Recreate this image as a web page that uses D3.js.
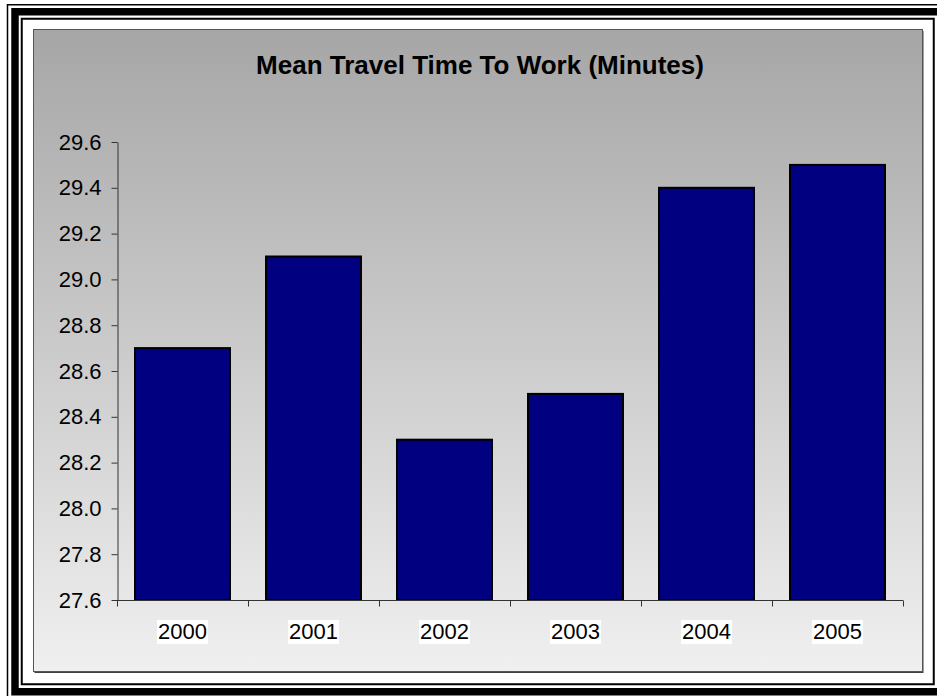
<!DOCTYPE html>
<html>
<head>
<meta charset="utf-8">
<script src="https://cdn.jsdelivr.net/npm/d3@7"></script>
<style>
  html, body { margin: 0; padding: 0; background: #ffffff; }
  svg { display: block; }
  text { font-family: Arial, "Liberation Sans", sans-serif; fill: #000; }
</style>
</head>
<body>
<svg id="chart" width="937" height="696"></svg>
<script>
// Mean travel time to work, by survey year
const years = ["2000", "2001", "2002", "2003", "2004", "2005"];
const minutes = [28.7, 29.1, 28.3, 28.5, 29.4, 29.5];
const yTicks = [27.6, 27.8, 28.0, 28.2, 28.4, 28.6, 28.8, 29.0, 29.2, 29.4, 29.6];
const chartTitle = "Mean Travel Time To Work (Minutes)";

const W = 937, H = 696;
const svg = d3.select("#chart");

// Page-style border: thin outer rule, thick rule, thin inner rule
const frame = svg.append("g");
frame.append("rect").attr("x", 7.5).attr("y", 4.75).attr("width", W + 20).attr("height", H + 20)
  .attr("fill", "none").attr("stroke", "#000").attr("stroke-width", 1.5);
frame.append("rect").attr("x", 15).attr("y", 11.75).attr("width", W + 20).attr("height", 680)
  .attr("fill", "none").attr("stroke", "#000").attr("stroke-width", 7.5);
frame.append("rect").attr("x", 21.75).attr("y", 18.75).attr("width", 912).attr("height", 665.5)
  .attr("fill", "none").attr("stroke", "#000").attr("stroke-width", 2);

// Chart area with vertical grey gradient
const defs = svg.append("defs");
const grad = defs.append("linearGradient").attr("id", "bg").attr("x1", 0).attr("y1", 0).attr("x2", 0).attr("y2", 1);
grad.append("stop").attr("offset", "0%").attr("stop-color", "#a6a6a6");
grad.append("stop").attr("offset", "100%").attr("stop-color", "#f0f0f0");

const panel = { x: 33, y: 29.5, w: 889, h: 642 };
// shadow on right and bottom edges
svg.append("rect").attr("x", panel.x + 1.5).attr("y", panel.y + 1.5).attr("width", panel.w).attr("height", panel.h)
  .attr("fill", "#404040");
svg.append("rect").attr("x", panel.x + 0.5).attr("y", panel.y).attr("width", panel.w).attr("height", panel.h)
  .attr("fill", "url(#bg)").attr("stroke", "#555").attr("stroke-width", 1);

// Title
svg.append("text")
  .attr("x", 480).attr("y", 74)
  .attr("text-anchor", "middle")
  .attr("font-size", 26).attr("font-weight", "bold")
  .text(chartTitle);

// Scales
const x = d3.scaleBand().domain(years).range([117, 903]).padding(0);
const y = d3.scaleLinear().domain([27.6, 29.6]).range([600, 142]);
const barFrac = 0.725;

// Bars
svg.append("g").selectAll("rect").data(years).join("rect")
  .attr("x", d => x(d) + x.bandwidth() * (1 - barFrac) / 2)
  .attr("y", (d, i) => y(minutes[i]))
  .attr("width", x.bandwidth() * barFrac)
  .attr("height", (d, i) => y(27.6) - y(minutes[i]))
  .attr("fill", "#000080")
  .attr("stroke", "#000").attr("stroke-width", 2);

// Y axis
const yAxis = svg.append("g").attr("transform", "translate(117.5,0)")
  .call(d3.axisLeft(y).tickValues(yTicks).tickFormat(d3.format(".1f")).tickSize(6).tickPadding(10).tickSizeOuter(0));
yAxis.select(".domain").attr("stroke", "#333");
yAxis.selectAll(".tick line").attr("stroke", "#333");
yAxis.selectAll(".tick text").attr("font-size", 22).attr("font-family", "Arial, 'Liberation Sans', sans-serif").attr("fill", "#000");

// X axis: ticks at category boundaries
const xAxisG = svg.append("g").attr("transform", "translate(0,600.5)");
xAxisG.append("line").attr("x1", 117).attr("x2", 903).attr("stroke", "#333");
const bounds = years.map(d => x(d)).concat([x(years[years.length - 1]) + x.bandwidth()]);
xAxisG.selectAll("line.tk").data(bounds).join("line").attr("class", "tk")
  .attr("x1", d => Math.round(d) + 0.5).attr("x2", d => Math.round(d) + 0.5)
  .attr("y1", 0).attr("y2", 6).attr("stroke", "#333");

// Category labels on white backing boxes
const lbl = svg.append("g").selectAll("g").data(years).join("g")
  .attr("transform", d => `translate(${x(d) + x.bandwidth() / 2},639)`);
lbl.append("text").attr("text-anchor", "middle").attr("font-size", 22).text(d => d)
  .each(function () {
    const b = this.getBBox();
    d3.select(this.parentNode).insert("rect", "text")
      .attr("x", b.x - 1).attr("y", b.y + 1).attr("width", b.width + 2).attr("height", b.height - 1)
      .attr("fill", "#ffffff");
  });
</script>
</body>
</html>
